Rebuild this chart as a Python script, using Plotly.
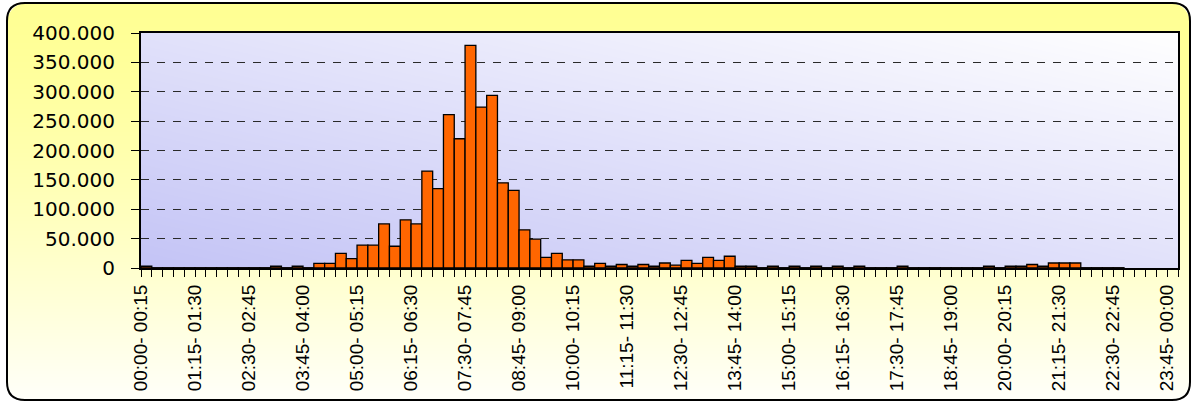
import base64, struct, zlib
import numpy as np
import plotly.graph_objects as go

# ---------------- data ----------------
T = 500  # tiny, non-empty interval
values = [
    3000, T, T, T, T, T, T, T, T, T,
    T, T, 3000, T, 3000, T, 8000, 8000, 25000, 16000,
    39000, 39000, 75000, 37000, 82000, 75000, 165000, 135000, 261000, 220000,
    379000, 274000, 294000, 145000, 132000, 65000, 49000, 18000, 25000, 14000,
    14000, 3000, 8000, 3000, 6000, 3000, 6000, 3000, 8500, 5000,
    13000, 8000, 18000, 13000, 20000, 3000, 3000, T, 3000, T,
    3000, T, 3000, T, 3000, T, 3000, T, T, T,
    3000, T, T, T, T, T, T, T, 3000, T,
    3000, 3000, 6000, 3000, 8500, 8500, 8500, T, T, T,
    T, None, None, None, None, None,
]
bin_index = list(range(96))

tick_labels = [
    "00:00- 00:15", "01:15- 01:30", "02:30- 02:45", "03:45- 04:00",
    "05:00- 05:15", "06:15- 06:30", "07:30- 07:45", "08:45- 09:00",
    "10:00- 10:15", "11:15- 11:30", "12:30- 12:45", "13:45- 14:00",
    "15:00- 15:15", "16:15- 16:30", "17:30- 17:45", "18:45- 19:00",
    "20:00- 20:15", "21:15- 21:30", "22:30- 22:45", "23:45- 00:00",
]
label_every = 5

y_tickvals = [0, 50000, 100000, 150000, 200000, 250000, 300000, 350000, 400000]
y_ticktext = ["0", "50.000", "100.000", "150.000", "200.000",
              "250.000", "300.000", "350.000", "400.000"]

# ---------------- geometry ----------------
W, H = 1192, 403
ML, MR, MT, MB = 141, 14, 33, 135
PW, PH = W - ML - MR, H - MT - MB
FX0, FY0, FX1, FY1 = 7, 3, 1190, 400   # outer rounded frame
RAD = 18


def png_uri(rgba):
    h, w, _ = rgba.shape
    raw = b"".join(b"\x00" + rgba[r].tobytes() for r in range(h))
    def chunk(t, d):
        c = struct.pack(">I", len(d)) + t + d
        return c + struct.pack(">I", zlib.crc32(t + d) & 0xffffffff)
    png = b"\x89PNG\r\n\x1a\n" + chunk(b"IHDR", struct.pack(">IIBBBBB", w, h, 8, 6, 0, 0, 0)) \
        + chunk(b"IDAT", zlib.compress(raw, 9)) + chunk(b"IEND", b"")
    return "data:image/png;base64," + base64.b64encode(png).decode()


# outer yellow vertical gradient with rounded corners
fw, fh = FX1 - FX0, FY1 - FY0
yy, xx = np.mgrid[0:fh, 0:fw].astype(float)
t = yy / (fh - 1)
outer = np.zeros((fh, fw, 4), dtype=np.uint8)
outer[..., 0] = 255
outer[..., 1] = 255
outer[..., 2] = np.clip(148 + 102 * t ** 1.4, 0, 255).astype(np.uint8)
cx = np.clip(xx, RAD, fw - 1 - RAD)
cy = np.clip(yy, RAD, fh - 1 - RAD)
d = np.sqrt((xx - cx) ** 2 + (yy - cy) ** 2)
outer[..., 3] = (np.clip(RAD + 0.5 - d, 0, 1) * 255).astype(np.uint8)

# plot area diagonal lavender gradient
yy, xx = np.mgrid[0:PH, 0:PW].astype(float)
u = xx / (PW - 1)
v = 1 - yy / (PH - 1)
tt = np.clip(0.5 * u + 0.5 * v, 0, 1)
c0 = np.array([196, 196, 246.0])
c1 = np.array([255, 255, 255.0])
inner = np.zeros((PH, PW, 4), dtype=np.uint8)
for k in range(3):
    inner[..., k] = (c0[k] + (c1[k] - c0[k]) * tt).astype(np.uint8)
inner[..., 3] = 255


def px(x):
    return (x - ML) / PW


def py(y):
    return (H - MB - y) / PH


# ---------------- figure ----------------
x_tickvals = [i - 0.5 for i in range(97)]
x_ticktext = []
for i in range(97):
    if i % label_every == 0 and i // label_every < len(tick_labels):
        x_ticktext.append(tick_labels[i // label_every])
    else:
        x_ticktext.append("")

fig = go.Figure(go.Bar(
    x=bin_index, y=values,
    marker=dict(color="#FF6600", line=dict(color="#000000", width=1.3)),
    hoverinfo="skip",
))

frame_path = (
    f"M {px(FX0 + RAD)},{py(FY0)} L {px(FX1 - RAD)},{py(FY0)} "
    f"Q {px(FX1)},{py(FY0)} {px(FX1)},{py(FY0 + RAD)} "
    f"L {px(FX1)},{py(FY1 - RAD)} Q {px(FX1)},{py(FY1)} {px(FX1 - RAD)},{py(FY1)} "
    f"L {px(FX0 + RAD)},{py(FY1)} Q {px(FX0)},{py(FY1)} {px(FX0)},{py(FY1 - RAD)} "
    f"L {px(FX0)},{py(FY0 + RAD)} Q {px(FX0)},{py(FY0)} {px(FX0 + RAD)},{py(FY0)} Z"
)

fig.update_layout(
    width=W, height=H,
    margin=dict(l=ML, r=MR, t=MT, b=MB, pad=0),
    paper_bgcolor="#ffffff",
    plot_bgcolor="rgba(0,0,0,0)",
    showlegend=False,
    bargap=0,
    images=[
        dict(source=png_uri(outer), xref="paper", yref="paper",
             x=px(FX0), y=py(FY0), sizex=fw / PW, sizey=fh / PH,
             xanchor="left", yanchor="top", sizing="stretch", layer="below"),
        dict(source=png_uri(inner), xref="paper", yref="paper",
             x=0, y=1, sizex=1, sizey=1,
             xanchor="left", yanchor="top", sizing="stretch", layer="below"),
    ],
    shapes=[dict(type="path", path=frame_path, xref="paper", yref="paper",
                 line=dict(color="#000000", width=2), fillcolor="rgba(0,0,0,0)",
                 layer="below")],
    xaxis=dict(
        range=[-0.5, 95.5], tickmode="array", tickvals=x_tickvals, ticktext=x_ticktext,
        tickangle=-90, ticks="outside", ticklen=7, tickcolor="#000", tickwidth=1,
        showline=True, linecolor="#000", linewidth=2, mirror=True,
        showgrid=False, zeroline=False, automargin=False,
        tickfont=dict(family="Liberation Sans, Arial", size=19, color="#000"),
        ticklabelstandoff=0,
    ),
    yaxis=dict(
        range=[0, 400000], tickmode="array", tickvals=y_tickvals, ticktext=y_ticktext,
        ticks="outside", ticklen=8, tickcolor="#000", tickwidth=1,
        showline=True, linecolor="#000", linewidth=2, mirror=True,
        showgrid=True, gridcolor="#2a2a2a", gridwidth=1, griddash="8px,8px",
        zeroline=False, automargin=False,
        tickfont=dict(family="DejaVu Sans", size=20, color="#000"),
        ticklabelstandoff=12,
    ),
)

fig.write_html(
    "out.html",
    config={"displayModeBar": False, "staticPlot": True},
    post_script="document.body.style.margin='0';document.body.style.overflow='hidden';",
)
